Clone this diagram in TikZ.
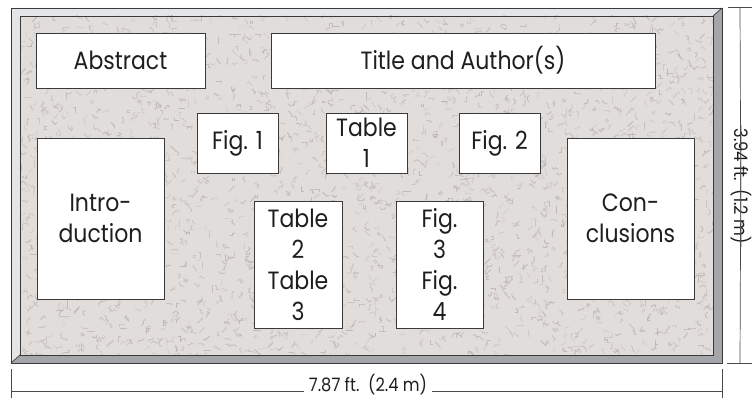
\documentclass[tikz,border=0pt]{standalone}
\usepackage{fontspec}
\newfontfamily\pf{Poppins}[FakeStretch=0.88]
\definecolor{frameL}{HTML}{E3E5E7}
\definecolor{frameD}{HTML}{A4A6A9}
\definecolor{cork}{HTML}{E1DDDA}
\definecolor{speck}{HTML}{B9B1AE}
\definecolor{edge}{HTML}{3A3A3A}
\definecolor{ink}{HTML}{1E1E1E}
\tikzset{
  box/.style={draw=edge, line width=0.9pt, fill=white, inner sep=0pt, align=center,
    text=ink, font=\pf\fontsize{25}{31}\selectfont},
  dimtext/.style={inner sep=1pt, text=ink, font=\pf\fontsize{18.5}{22}\selectfont},
  dimline/.style={draw=ink!80, line width=0.7pt},
  tex/.style={draw=speck, line width=0.9pt, line join=miter}
}
\begin{document}
\begin{tikzpicture}[x=1pt,y=-1pt]
\useasboundingbox (0,0) rectangle (752,398);
% frame bevel
\fill[frameL] (11,8) -- (722,8) -- (713,16) -- (20,16) -- (20,355) -- (11,363) -- cycle;
\fill[frameD] (722,8) -- (722,363) -- (11,363) -- (20,355) -- (713,355) -- (713,16) -- cycle;
\fill[cork] (20,16) rectangle (713,355);
% texture
\begin{scope}
\clip (20,16) rectangle (713,355);
\pgfmathsetseed{42}
\foreach \i in {1,...,2600}{
  \pgfmathsetmacro\xx{20+693*rnd}
  \pgfmathsetmacro\yy{16+339*rnd}
  \pgfmathsetmacro\aa{45*int(8*rnd)}
  \pgfmathsetmacro\ab{\aa+45*int(3*rand)}
  \pgfmathsetmacro\ac{\ab+45*int(3*rand)}
  \pgfmathsetmacro\op{0.25+0.6*rnd}
  \draw[tex, draw opacity=\op] (\xx,\yy) -- ++(\aa:2.5) -- ++(\ab:2.5) -- ++(\ac:2.5);
}
\end{scope}
\draw[edge, line width=0.9pt] (11,8) rectangle (722,363);
\draw[edge, line width=0.9pt] (20,16) rectangle (713,355);
\draw[edge, line width=0.7pt] (713,16) -- (722,8);
\draw[edge, line width=0.7pt] (20,355) -- (11,363);
% boxes
\node[box, minimum width=169pt, minimum height=55pt] (abstract) at (120.5,60.5) {Abstract};
\node[box, minimum width=384pt, minimum height=55pt] (title) at (463,60.5) {Title and Author(s)};
\node[box, minimum width=127pt, minimum height=161pt] (intro) at (100.5,218.5) {Intro-\\duction};
\node[box, minimum width=127pt, minimum height=161pt] (concl) at (630.5,218.5) {Con-\\clusions};
\node[box, minimum width=81pt, minimum height=60pt] (fig1) at (237.5,143) {Fig. 1};
\node[box, minimum width=81pt, minimum height=60pt] (tab1) at (366.5,143) {Table\\1};
\node[box, minimum width=81pt, minimum height=60pt] (fig2) at (499.5,143) {Fig. 2};
\node[box, minimum width=88pt, minimum height=127pt] (tab23) at (298,264.5) {Table\\2\\Table\\3};
\node[box, minimum width=87pt, minimum height=127pt] (fig34) at (439.5,264.5) {Fig.\\3\\Fig.\\4};
% vertical dimension
\coordinate (vt) at (740,7);
\coordinate (vb) at (740,363);
\draw[dimline] (728,7) -- (752,7);
\draw[dimline] (727,363) -- (752,363);
\node[dimtext, inner sep=3pt, rotate=-90] (vlab) at (741,186) {3.94 ft.\ \ (1.2 m)};
\draw[dimline] (vt) -- (vlab.east);
\draw[dimline] (vlab.west) -- (vb);
% horizontal dimension
\coordinate (hl) at (11,391);
\coordinate (hr) at (722,391);
\draw[dimline] (11,369) -- (11,398);
\draw[dimline] (722,369) -- (722,398);
\node[dimtext, inner xsep=5pt] (hlab) at (368,385) {7.87 ft.\ \ (2.4 m)};
\draw[dimline] (hl) -- (hl -| hlab.west);
\draw[dimline] (hlab.east |- hr) -- (hr);
\end{tikzpicture}
\end{document}
